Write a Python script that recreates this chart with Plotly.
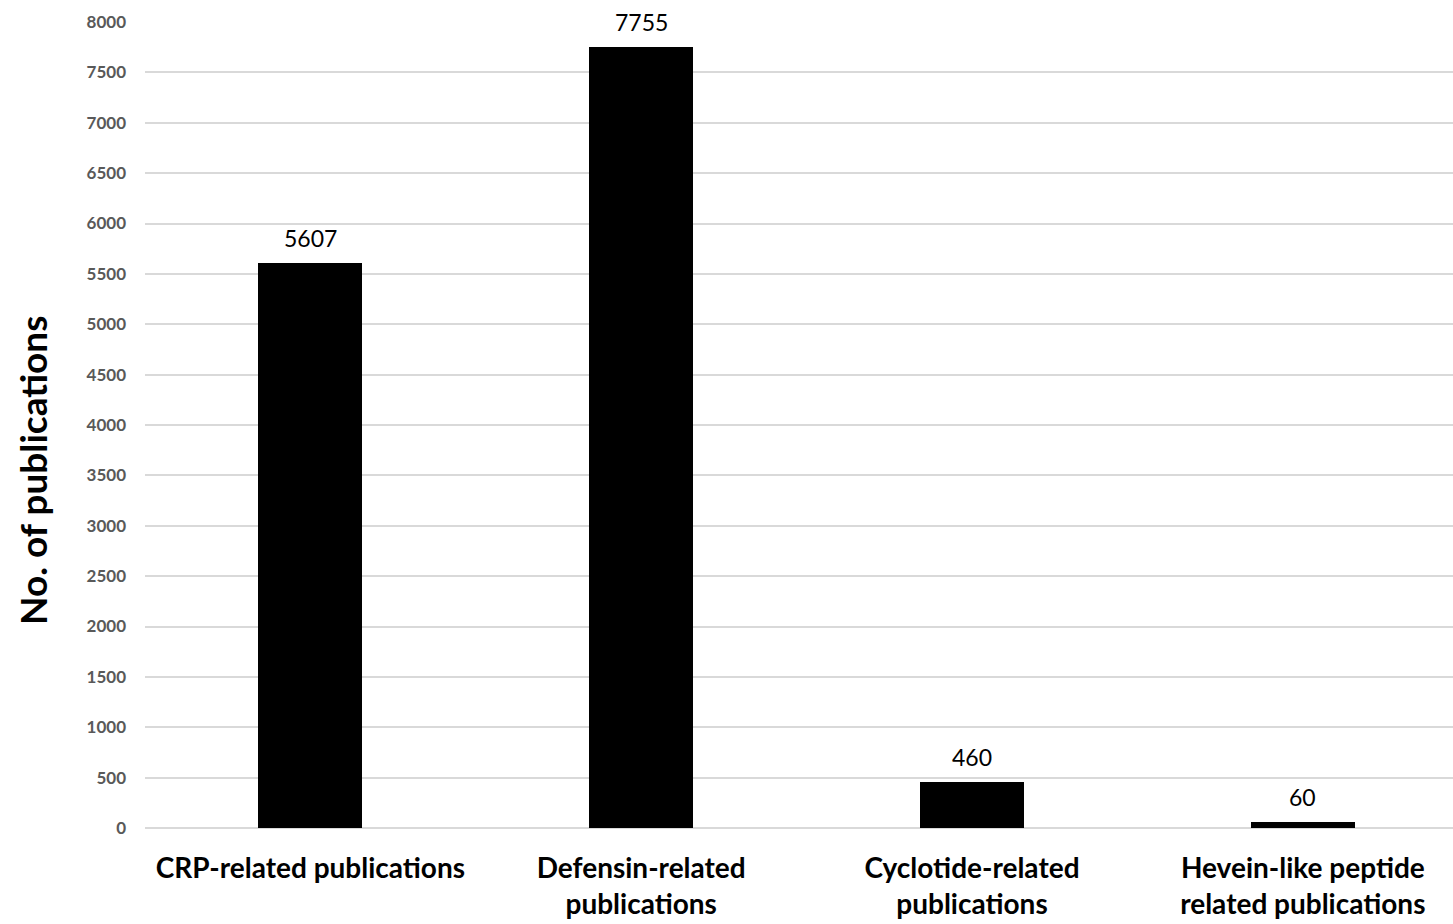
import plotly.graph_objects as go

categories = ["CRP-related publications", "Defensin-related<br>publications",
              "Cyclotide-related<br>publications", "Hevein-like peptide<br>related publications"]
values = [5607, 7755, 460, 60]
y_ticks = list(range(0, 8001, 500))
y_title = "No. of publications"

FONT = "Lato, Open Sans, sans-serif"

fig = go.Figure(go.Bar(
    x=list(range(len(categories))), y=values,
    marker=dict(color="black", line=dict(width=0)),
    width=0.314,
    cliponaxis=False,
))

for i, v in enumerate(values):
    fig.add_annotation(x=i, y=v, text=str(v), showarrow=False, yanchor="bottom",
                       yshift=9, font=dict(family=FONT, size=23, color="black"))

fig.add_annotation(xref="paper", yref="paper", x=0, y=0.443, xanchor="center", yanchor="middle",
                   xshift=-112, text=y_title, textangle=-90, showarrow=False,
                   font=dict(family=FONT, size=37, color="black", weight="bold"))

fig.update_layout(
    width=1453, height=924,
    margin=dict(l=145, r=0, t=22, b=96),
    plot_bgcolor="white", paper_bgcolor="white",
    showlegend=False,
    bargap=0,
    xaxis=dict(
        tickmode="array", tickvals=list(range(len(categories))), ticktext=categories,
        range=[-0.5, 3.454], showgrid=False, zeroline=False, showline=False,
        tickfont=dict(family=FONT, size=28, color="black", weight="bold"),
        ticks="", ticklabelstandoff=21,
    ),
    yaxis=dict(
        range=[0, 8000], tickvals=y_ticks, showgrid=True, gridcolor="#d9d9d9", gridwidth=2,
        zeroline=True, zerolinecolor="#d9d9d9", zerolinewidth=2, showline=False,
        tickfont=dict(family=FONT, size=17, color="#595959", weight="bold"),
        ticks="", ticklabelstandoff=18,
    ),
)

fig.write_html("out.html", config={"displayModeBar": False},
               post_script="document.body.style.margin='0';")
